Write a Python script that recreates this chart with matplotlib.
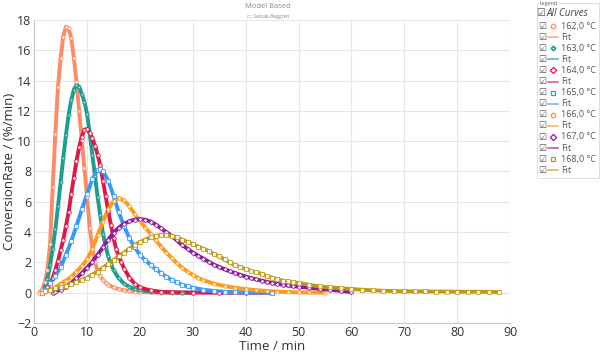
import matplotlib
matplotlib.use("Agg")
import matplotlib.pyplot as plt
from matplotlib.lines import Line2D
from matplotlib.patches import Rectangle

plt.rcParams['font.family'] = ['Open Sans', 'DejaVu Sans']

# ---- data (time in min, rate in %/min) ----
t_162 = [1.0, 1.5, 2.0, 2.5, 3.0, 3.5, 4.0, 4.5, 5.0, 5.5, 6.0, 6.5, 7.0, 7.5, 8.0, 8.5,
         9.0, 9.5, 10.0, 10.5, 11.0, 11.5, 12.0, 12.5, 13.0, 13.5, 14, 15, 16, 17, 18, 19,
         20, 22, 24, 26, 28, 30]
r_162 = [0, 0.2, 0.7, 1.5, 3.2, 7.0, 10.5, 13.6, 15.5, 16.9, 17.55, 17.45, 16.8, 15.5, 13.9,
         12.0, 10.1, 8.2, 6.3, 4.3, 2.9, 2.0, 1.45, 1.1, 0.85, 0.67, 0.53, 0.35, 0.24, 0.17,
         0.12, 0.08, 0.05, 0.02, 0.01, 0, 0, 0]

t_163 = [1.5, 2.0, 2.5, 3.0, 3.5, 4.0, 4.5, 5.0, 5.5, 6.0, 6.5, 7.0, 7.5, 8.0, 8.5, 9.0,
         9.5, 10.0, 10.5, 11.0, 11.5, 12.0, 12.5, 13.0, 13.5, 14, 14.5, 15, 16, 17, 18, 19,
         20, 22, 24, 26, 28, 30]
r_163 = [0, 0.3, 0.9, 1.8, 2.9, 4.2, 5.7, 7.3, 8.9, 10.4, 11.7, 12.7, 13.4, 13.7, 13.6, 13.1,
         12.6, 11.8, 10.5, 9.1, 7.7, 6.3, 5.1, 3.9, 3.1, 2.4, 1.9, 1.5, 0.95, 0.6, 0.4, 0.25,
         0.17, 0.08, 0.04, 0.02, 0.01, 0]

t_164 = [1.5, 2.0, 2.5, 3.0, 3.5, 4.0, 4.5, 5.0, 5.5, 6.0, 6.5, 7.0, 7.5, 8.0, 8.5, 9.0,
         9.5, 10.0, 10.5, 11.0, 11.5, 12.0, 12.5, 13.0, 13.5, 14.0, 14.5, 15.0, 15.5, 16.0,
         16.5, 17, 18, 19, 20, 22, 24, 26, 30, 35, 40, 45]
r_164 = [0, 0.15, 0.35, 0.65, 1.0, 1.5, 2.1, 2.8, 3.5, 4.4, 5.3, 6.5, 7.6, 8.7, 9.6, 10.3,
         10.75, 10.8, 10.55, 10.2, 9.7, 9.1, 8.4, 7.4, 6.4, 5.4, 4.5, 3.6, 2.9, 2.4,
         2.0, 1.6, 1.0, 0.6, 0.35, 0.15, 0.07, 0.03, 0.01, 0, 0, 0]

t_165 = [1.5, 2, 3, 4, 5, 6, 7, 8, 9, 10, 11, 12, 12.5, 13, 14, 15, 16, 17, 18, 19, 20,
         21, 22, 23, 24, 25, 26, 27, 28, 29, 30, 32, 34, 36, 38, 40, 45]
r_165 = [0, 0.2, 0.65, 1.1, 1.7, 2.5, 3.4, 4.4, 5.5, 6.5, 7.5, 8.1, 8.15, 8.05, 7.4, 6.4,
         5.3, 4.4, 3.6, 3.0, 2.5, 2.15, 1.85, 1.55, 1.3, 1.05, 0.85, 0.68, 0.53, 0.42, 0.33,
         0.2, 0.12, 0.07, 0.04, 0.02, 0]

t_166 = [1.5, 2, 3, 4, 5, 6, 7, 8, 9, 10, 11, 12, 13, 14, 15, 16, 17, 18, 19, 20, 21, 22,
         23, 24, 25, 26, 27, 28, 29, 30, 31, 32, 34, 36, 38, 40, 42, 44, 46, 48, 50, 52, 55]
r_166 = [0, 0.05, 0.2, 0.35, 0.6, 0.8, 1.05, 1.4, 1.75, 2.2, 2.9, 3.8, 4.7, 5.5, 6.05, 6.25,
         6.1, 5.7, 5.2, 4.75, 4.3, 3.9, 3.45, 3.05, 2.65, 2.3, 1.95, 1.65, 1.4, 1.18, 0.98,
         0.83, 0.6, 0.45, 0.33, 0.24, 0.17, 0.12, 0.08, 0.05, 0.03, 0.02, 0.01]

t_167 = [3.5, 4, 5, 6, 7, 8, 9, 10, 11, 12, 13, 14, 15, 16, 17, 18, 19, 20, 21, 22, 23, 24,
         25, 26, 27, 28, 29, 30, 31, 32, 33, 34, 35, 36, 37, 38, 39, 40, 41, 42, 43, 44, 45,
         46, 47, 48, 49, 50, 52, 54, 56, 58, 60]
r_167 = [0, 0.08, 0.2, 0.4, 0.65, 0.95, 1.3, 1.65, 2.05, 2.5, 3.0, 3.5, 3.95, 4.3, 4.55,
         4.72, 4.82, 4.85, 4.82, 4.7, 4.5, 4.25, 4.0, 3.75, 3.45, 3.15, 2.9, 2.65, 2.45, 2.25,
         2.05, 1.85, 1.7, 1.55, 1.42, 1.3, 1.18, 1.07, 0.97, 0.88, 0.8, 0.72, 0.65, 0.59,
         0.53, 0.48, 0.44, 0.4, 0.33, 0.26, 0.2, 0.12, 0.05]

t_168 = [1.5, 2, 3, 4, 5, 6, 7, 8, 9, 10, 11, 12, 13, 14, 15, 16, 17, 18, 19, 20, 21, 22,
         23, 24, 25, 26, 27, 28, 29, 30, 31, 32, 33, 34, 35, 36, 37, 38, 39, 40, 41, 42, 43,
         44, 45, 46, 47, 48, 49, 50, 52, 54, 56, 58, 60, 62, 64, 66, 68, 70, 72, 74, 76, 78,
         80, 82, 84, 86, 88]
r_168 = [0, 0.1, 0.2, 0.3, 0.38, 0.45, 0.55, 0.7, 0.85, 1.0, 1.2, 1.4, 1.65, 1.9, 2.15,
         2.4, 2.65, 2.9, 3.15, 3.35, 3.5, 3.65, 3.75, 3.8, 3.8, 3.75, 3.65, 3.5, 3.35, 3.2,
         3.05, 2.9, 2.75, 2.55, 2.4, 2.2, 2.0, 1.8, 1.7, 1.55, 1.45, 1.35, 1.25, 1.1, 1.0,
         0.9, 0.8, 0.75, 0.7, 0.65, 0.52, 0.42, 0.35, 0.3, 0.25, 0.2, 0.16, 0.13, 0.11, 0.1,
         0.09, 0.09, 0.08, 0.08, 0.07, 0.07, 0.07, 0.06, 0.04]

labels = ['162,0 °C', '163,0 °C', '164,0 °C', '165,0 °C', '166,0 °C', '167,0 °C', '168,0 °C']
colors = ['#FF8B66', '#1A9E8E', '#E0184A', '#3399FF', '#FF9A1A', '#8E1A9E', '#C0990F']
markers = ['o', 'P', 'D', 's', 'o', 'D', 's']

series = [(t_162, r_162), (t_163, r_163), (t_164, r_164), (t_165, r_165),
          (t_166, r_166), (t_167, r_167), (t_168, r_168)]

fig = plt.figure(figsize=(6, 3.61), dpi=100)
ax = fig.add_axes([0.057, 0.105, 0.793, 0.840])

for (t, r), c, m in zip(series, colors, markers):
    # fit line, measured points drawn over it
    ax.plot(t, r, color=c, lw=2.8, zorder=2, solid_capstyle='round', solid_joinstyle='round')
    ax.plot(t, r, ls='none', marker=m, ms=2.4, mec=c, mfc='#ffffff', mew=0.6, zorder=3,
            alpha=0.9)

ax.set_xlim(0, 90)
ax.set_ylim(-2, 18)
ax.set_xticks(range(0, 91, 10))
ax.set_yticks(range(-2, 19, 2))
ax.grid(True, color='#e6e6e6', lw=0.8)
ax.set_axisbelow(True)
for s in ['top', 'right']:
    ax.spines[s].set_visible(False)
for s in ['left', 'bottom']:
    ax.spines[s].set_color('#c8c8c8')
ax.tick_params(length=0, labelsize=9, colors='#333333', pad=2)
ax.set_xlabel('Time / min', fontsize=9.5, color='#333333', labelpad=1)
ax.set_ylabel('ConversionRate / (%/min)', fontsize=9.5, color='#333333', labelpad=1)

fig.text(0.447, 0.982, 'Model Based', ha='center', va='center', fontsize=5.5, color='#888888')
fig.text(0.447, 0.955, 'c:; Sestak-Beggren', ha='center', va='center', fontsize=3.6,
         color='#888888')

# ---- legend panel on the right ----
W, H = 600.0, 361.0
fig.add_artist(Rectangle((537 / W, 1 - 178 / H), 62 / W, 175 / H, transform=fig.transFigure,
                         fill=False, ec='#d8d8d8', lw=0.6))
fig.text(539 / W, 1 - 4 / H, 'Legend', fontsize=3.8, color='#555555', va='center',
         bbox=dict(fc='white', ec='none', pad=0.3))
fig.text(541 / W, 1 - 13 / H, '☑', fontsize=7, color='#555555', va='center', ha='center',
         family='DejaVu Sans')
fig.text(547 / W, 1 - 13 / H, 'All Curves', fontsize=7, color='#444444', va='center',
         style='italic')

row_y = 26
for lab, c, m in zip(labels, colors, markers):
    for kind in ('pt', 'fit'):
        yf = 1 - row_y / H
        fig.text(542 / W, yf, '☑', fontsize=6.5, color='#555555', va='center', ha='center',
                 family='DejaVu Sans')
        if kind == 'pt':
            fig.add_artist(Line2D([553 / W], [yf], transform=fig.transFigure, ls='none',
                                  marker=m, ms=3.2, mec=c, mfc='white', mew=0.9))
            txt = lab
        else:
            fig.add_artist(Line2D([548 / W, 558 / W], [yf, yf], transform=fig.transFigure,
                                  color=c, lw=1.2, alpha=0.7))
            txt = 'Fit'
        fig.text(561 / W, yf, txt, fontsize=6.5, color='#555555', va='center')
        row_y += 11.1

fig.savefig('out.png', dpi=100)
